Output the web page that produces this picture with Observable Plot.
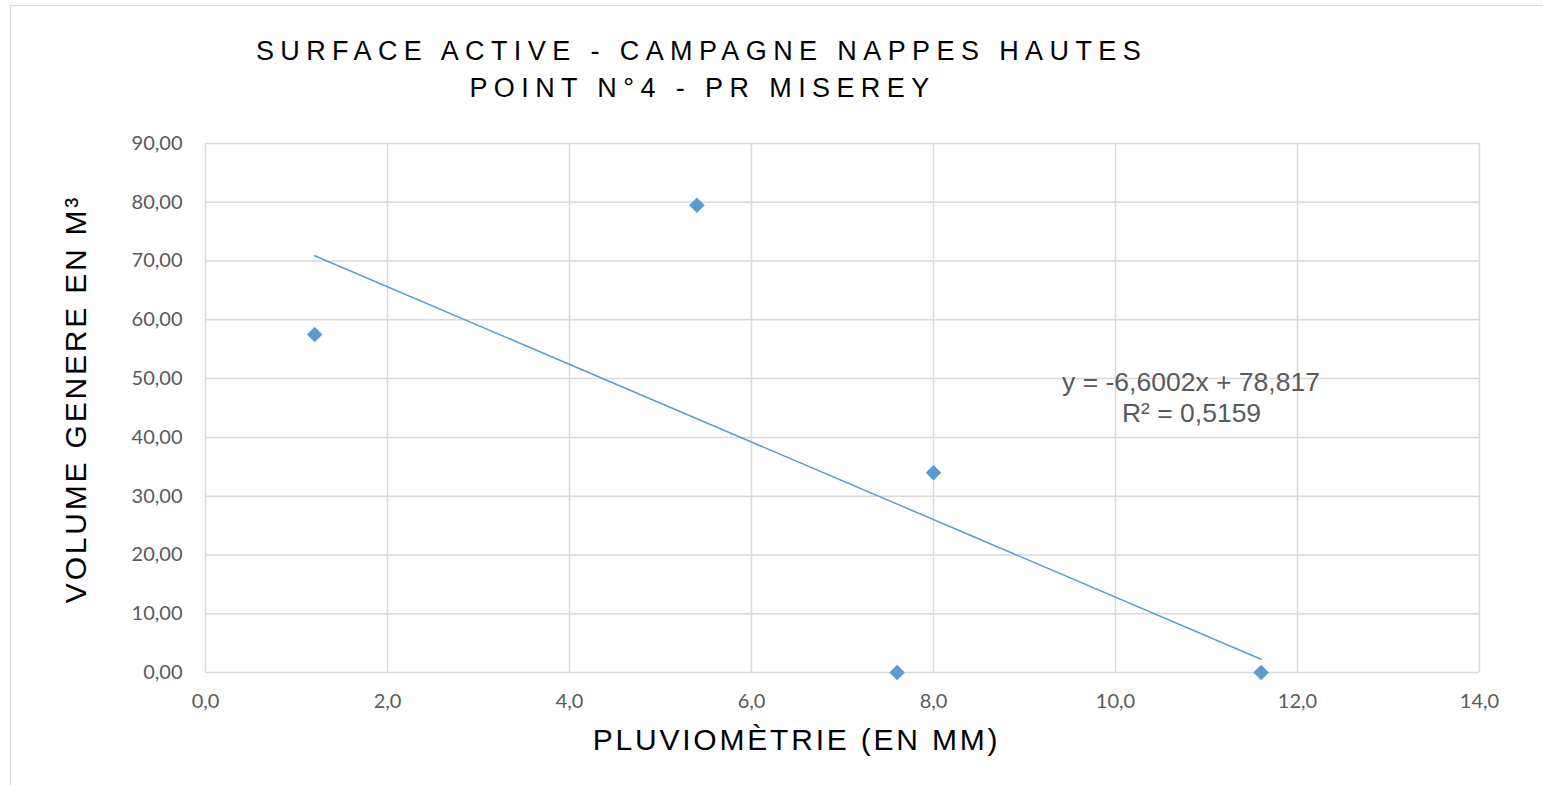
<!DOCTYPE html>
<html><head><meta charset="utf-8">
<script src="https://cdn.jsdelivr.net/npm/d3@7"></script>
<script src="https://cdn.jsdelivr.net/npm/@observablehq/plot@0.6"></script>
<style>
body{margin:0;background:#fff;}
#wrap{position:relative;width:1543px;height:785px;overflow:hidden;}
#frame{position:absolute;left:10px;top:5px;width:1560px;height:800px;border:1.5px solid #d9d9d9;box-sizing:border-box;}
#chart{position:absolute;left:0;top:0;}
.ttl text{letter-spacing:6.4px;}
.axl text{letter-spacing:2.8px;}
</style></head>
<body><div id="wrap"><div id="frame"></div><div id="chart"></div></div>
<script>
const titleLines = ["SURFACE ACTIVE - CAMPAGNE NAPPES HAUTES", "POINT N°4 - PR MISEREY"];
const pluvio = [1.2, 5.4, 7.6, 8.0, 11.6];
const volume = [57.5, 79.5, 0, 34.0, 0];
const xTicks = [0, 2, 4, 6, 8, 10, 12, 14];
const yTicks = [0, 10, 20, 30, 40, 50, 60, 70, 80, 90];
const xLabel = "PLUVIOMÈTRIE (EN MM)";
const yLabel = "VOLUME GENERE EN M³";
const eqLines = ["y = -6,6002x + 78,817", "R² = 0,5159"];

const pts = pluvio.map((x, i) => ({x, y: volume[i]}));
const fr = (v, d) => v.toFixed(d).replace(".", ",");
const blue = "#5B9BD5";
const arial = "Liberation Sans, Arial, sans-serif";
const tickFont = "Lato, sans-serif";

const chart = Plot.plot({
  width: 1543, height: 785,
  marginTop: 143, marginLeft: 205, marginRight: 64, marginBottom: 113,
  style: {background: "transparent", overflow: "visible"},
  x: {domain: [0, 14], label: null},
  y: {domain: [0, 90], label: null},
  marks: [
    Plot.gridX(xTicks, {stroke: "#d9d9d9", strokeOpacity: 1, strokeWidth: 1.5}),
    Plot.gridY(yTicks, {stroke: "#d9d9d9", strokeOpacity: 1, strokeWidth: 1.5}),
    Plot.axisX(xTicks, {tickSize: 0, tickPadding: 21, fontSize: 20, fill: "#595959", fontFamily: tickFont, tickFormat: d => fr(d, 1)}),
    Plot.axisY(yTicks, {tickSize: 0, tickPadding: 23, fontSize: 20, fill: "#595959", fontFamily: tickFont, tickFormat: d => fr(d, 2)}),
    Plot.linearRegressionY(pts, {x: "x", y: "y", ci: 0, stroke: blue, strokeWidth: 1.5}),
    Plot.dot(pts, {x: "x", y: "y", symbol: "square", rotate: 45, r: 6.2, fill: blue, stroke: "none"}),
    Plot.text([eqLines[0]], {frameAnchor: "top-left", dx: 985.5, dy: 239, lineAnchor: "middle", textAnchor: "middle", fontSize: 26.5, fill: "#595959", fontFamily: arial}),
    Plot.text([eqLines[1]], {frameAnchor: "top-left", dx: 986, dy: 270, lineAnchor: "middle", textAnchor: "middle", fontSize: 26.5, fill: "#595959", fontFamily: arial}),
    Plot.text([titleLines[0]], {frameAnchor: "top-left", dx: 496, dy: -92, lineAnchor: "middle", textAnchor: "middle", fontSize: 27, fill: "#000", fontFamily: arial, className: "ttl"}),
    Plot.text([titleLines[1]], {frameAnchor: "top-left", dx: 497, dy: -55, lineAnchor: "middle", textAnchor: "middle", fontSize: 27, fill: "#000", fontFamily: arial, className: "ttl"}),
    Plot.text([xLabel], {frameAnchor: "bottom", dx: -46, dy: 67.5, lineAnchor: "middle", textAnchor: "middle", fontSize: 30, fill: "#000", fontFamily: arial, className: "axl"}),
    Plot.text([yLabel], {frameAnchor: "left", dx: -129, dy: -9, rotate: -90, lineAnchor: "middle", textAnchor: "middle", fontSize: 30, fill: "#000", fontFamily: arial, className: "axl"})
  ]
});
document.getElementById("chart").appendChild(chart);
</script></body></html>
